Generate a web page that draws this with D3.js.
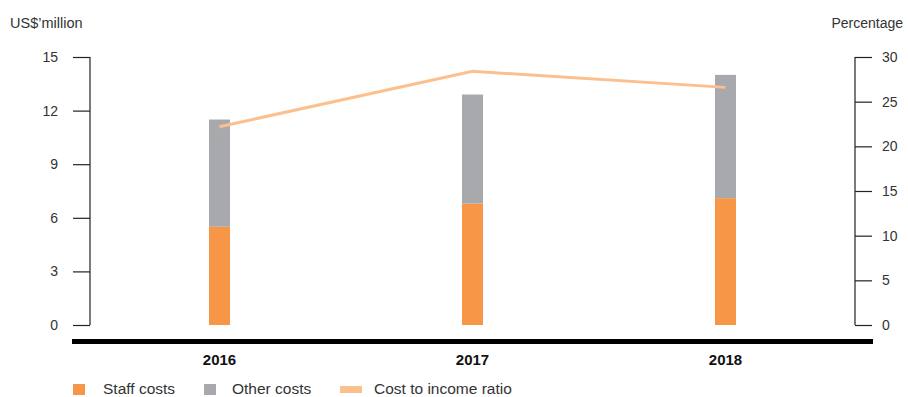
<!DOCTYPE html>
<html>
<head>
<meta charset="utf-8">
<script src="https://cdn.jsdelivr.net/npm/d3@7"></script>
<style>
  body { margin: 0; background: #fff; }
  svg text { font-family: "Liberation Sans", Arial, sans-serif; fill: #333; }
</style>
</head>
<body>
<svg id="chart" width="908" height="397"></svg>
<script>

// データ
const years = ["2016", "2017", "2018"];
const staffCosts = [5.5, 6.8, 7.1];
const otherCosts = [6.0, 6.1, 6.9];
const costIncomeRatio = [22.2, 28.4, 26.6];
const leftTicks = [0, 3, 6, 9, 12, 15];
const rightTicks = [0, 5, 10, 15, 20, 25, 30];

const colors = {
  staff: "#f79646",
  other: "#a7a9ac",
  ratio: "#fbc08e"
};

const svg = d3.select("#chart");

// スケール
const x = d3.scalePoint()
  .domain(years)
  .range([219.5, 725.5]);

const yLeft = d3.scaleLinear().domain([0, 15]).range([325, 57]);
const yRight = d3.scaleLinear().domain([0, 30]).range([325, 57]);

const barW = 21;

// 左軸
const axisL = svg.append("g")
  .attr("transform", "translate(90,0)")
  .call(d3.axisLeft(yLeft).tickValues(leftTicks).tickSize(17).tickPadding(15).tickSizeOuter(0));

// 右軸
const axisR = svg.append("g")
  .attr("transform", "translate(855,0)")
  .call(d3.axisRight(yRight).tickValues(rightTicks).tickSize(17).tickPadding(10).tickSizeOuter(0));

[axisL, axisR].forEach(a => {
  a.select(".domain").attr("stroke", "#222").attr("stroke-width", 1.2);
  a.selectAll(".tick line").attr("stroke", "#222").attr("stroke-width", 1.2);
  a.selectAll(".tick text").attr("font-size", "14px").attr("fill", "#333");
});
// 軸の線を 0 まで伸ばす
axisL.select(".domain").attr("d", `M0,${yLeft(15)}V${yLeft(0)}`);
axisR.select(".domain").attr("d", `M0,${yRight(30)}V${yRight(0)}`);

// 積み上げ棒グラフ
const bars = svg.append("g").attr("class", "bars");
bars.selectAll("rect.staff")
  .data(years)
  .enter()
  .append("rect")
  .attr("class", "staff")
  .attr("x", d => x(d) - barW / 2)
  .attr("width", barW)
  .attr("y", (d, i) => yLeft(staffCosts[i]))
  .attr("height", (d, i) => yLeft(0) - yLeft(staffCosts[i]))
  .attr("fill", colors.staff);

bars.selectAll("rect.other")
  .data(years)
  .enter()
  .append("rect")
  .attr("class", "other")
  .attr("x", d => x(d) - barW / 2)
  .attr("width", barW)
  .attr("y", (d, i) => yLeft(staffCosts[i] + otherCosts[i]))
  .attr("height", (d, i) => yLeft(staffCosts[i]) - yLeft(staffCosts[i] + otherCosts[i]))
  .attr("fill", colors.other);

// 折れ線
const line = d3.line()
  .x(d => x(d[0]))
  .y(d => yRight(d[1]));

svg.append("path")
  .datum(years.map((y, i) => [y, costIncomeRatio[i]]))
  .attr("d", line)
  .attr("fill", "none")
  .attr("stroke", colors.ratio)
  .attr("stroke-width", 3);

// 下の太線
svg.append("rect")
  .attr("x", 72)
  .attr("y", 339)
  .attr("width", 801)
  .attr("height", 5)
  .attr("fill", "#000");

// 年のラベル
svg.append("g")
  .selectAll("text")
  .data(years)
  .enter()
  .append("text")
  .text(d => d)
  .attr("x", d => x(d))
  .attr("y", 365)
  .attr("text-anchor", "middle")
  .attr("font-size", "15px")
  .attr("font-weight", "bold")
  .style("fill", "#111");

// 軸タイトル
svg.append("text")
  .text("US$\u2019million")
  .attr("x", 10)
  .attr("y", 28)
  .attr("font-size", "14.5px");

svg.append("text")
  .text("Percentage")
  .attr("x", 903)
  .attr("y", 28)
  .attr("text-anchor", "end")
  .attr("font-size", "14px");

// レジェンド
const legendItems = [
  { title: "Staff costs", color: colors.staff, x: 73, w: 12, tx: 103 },
  { title: "Other costs", color: colors.other, x: 204, w: 12, tx: 232 },
  { title: "Cost to income ratio", color: colors.ratio, x: 340, w: 22, tx: 374 }
];
const lg = svg.append("g").attr("class", "legend");
lg.selectAll("rect")
  .data(legendItems)
  .enter()
  .append("rect")
  .attr("x", d => d.x)
  .attr("y", (d, i) => i === 2 ? 386 : 384)
  .attr("width", d => d.w)
  .attr("height", (d, i) => i === 2 ? 7 : 11)
  .attr("fill", d => d.color);
lg.selectAll("text")
  .data(legendItems)
  .enter()
  .append("text")
  .text(d => d.title)
  .attr("x", d => d.tx)
  .attr("y", 394)
  .attr("font-size", "15.5px");

</script>
</body>
</html>
